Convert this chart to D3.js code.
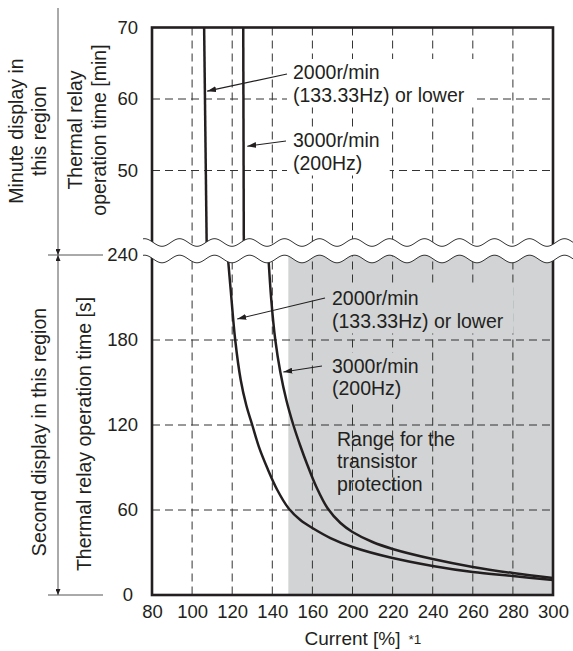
<!DOCTYPE html>
<html><head><meta charset="utf-8">
<script src="https://cdn.jsdelivr.net/npm/d3@7"></script>
<style>
body{margin:0;background:#fff}
svg{display:block}
text{font-family:"Liberation Sans",Arial,sans-serif;fill:#231f20}
</style>
</head><body>
<svg id="c" width="573" height="651"></svg>
<script>
// ---------------- data ----------------
const xTicks = [80, 100, 120, 140, 160, 200, 220, 240, 260, 280, 300];
const yTopTicks = [70, 60, 50];          // minutes
const yBottomTicks = [240, 180, 120, 60, 0]; // seconds
const topGrid = [60, 50];
const bottomGrid = [180, 120, 60];

// minute region (upper panel)
const top2000X = [106.0, 107.3];
const top2000Y = [70, 39];
const top3000X = [125.5, 125.8];
const top3000Y = [70, 39];

// second region (lower panel)
const bot2000X = [117.75, 119.25, 121.5, 124.25, 127, 130, 133.5, 137.5, 142.5, 148, 154, 160, 178, 200, 220, 240, 260, 280, 300];
const bot2000Y = [240, 215.3, 180, 151.8, 134.1, 120, 103.8, 89.6, 74.1, 61.4, 52.9, 47.3, 40.2, 33.9, 26.1, 20.5, 16.2, 13.4, 10.6];
const bot3000X = [138, 139.5, 141.5, 144, 147, 150.5, 154, 157.5, 164, 175, 188, 200, 210, 220, 240, 260, 280, 300];
const bot3000Y = [240, 208.2, 180, 157.4, 137.6, 120, 105.2, 91.8, 76.2, 61.4, 50.8, 44.5, 37.4, 32.5, 25.4, 19.8, 15.5, 12];

const protectionRange = [148, 300];

const label2000 = ["2000r/min", "(133.33Hz) or lower"];
const label3000 = ["3000r/min", "(200Hz)"];
const labelRange = ["Range for the", "transistor", "protection"];
const tipTop2000 = [107.5, 61.1];
const tipTop3000 = [127.5, 53.4];
const tipBot2000 = [122.5, 194.8];
const tipBot3000 = [145.5, 157.4];

const xTitle = "Current [%]";
const xTitleNote = "*1";
const minuteRegion = ["Minute display in", "this region"];
const minuteAxis = ["Thermal relay", "operation time [min]"];
const secondRegion = "Second display in this region";
const secondAxis = "Thermal relay operation time [s]";

// ---------------- layout ----------------
const svg = d3.select("#c");
const W = 573;
const plotL = 152, plotR = 553, plotT = 27.5, plotB = 595;
const step = (plotR - plotL) / (xTicks.length - 1);
const x = d3.scaleLinear().domain(xTicks).range(xTicks.map((d, i) => plotL + i * step));
const yTop = d3.scaleLinear().domain([50, 70]).range([170.5, plotT]);
const yBot = d3.scaleLinear().domain([0, 240]).range([plotB, 255]);
const waveUpper = 242.5, waveLower = 259, waveAmp = 3.8, wavePeriod = 35, wavePhase = 267;
const ink = "#231f20";
const grayFill = "#d1d3d4";

const defs = svg.append("defs");
function marker(id, w, h) {
  defs.append("marker").attr("id", id)
    .attr("markerUnits", "userSpaceOnUse")
    .attr("viewBox", `0 0 ${w} ${h}`)
    .attr("refX", w).attr("refY", h / 2)
    .attr("markerWidth", w).attr("markerHeight", h)
    .attr("orient", "auto-start-reverse")
    .append("path").attr("d", `M0,0L${w},${h/2}L0,${h}Z`).attr("fill", ink);
}
marker("arr", 9, 6);
marker("arrS", 6, 5);

// protection range
svg.append("rect")
  .attr("x", x(protectionRange[0])).attr("width", x(protectionRange[1]) - x(protectionRange[0]))
  .attr("y", yBot(240)).attr("height", yBot(0) - yBot(240))
  .attr("fill", grayFill);

// grid
const grid = svg.append("g").attr("stroke", "#333").attr("stroke-width", 1).attr("stroke-dasharray", "8,5");
grid.selectAll(".v").data(xTicks.slice(1, -1)).join("line")
  .attr("x1", d => x(d)).attr("x2", d => x(d)).attr("y1", plotT).attr("y2", plotB);
grid.selectAll(".ht").data(topGrid).join("line").attr("class", "ht")
  .attr("x1", plotL).attr("x2", plotR).attr("y1", d => yTop(d)).attr("y2", d => yTop(d));
grid.selectAll(".hb").data(bottomGrid).join("line").attr("class", "hb")
  .attr("x1", plotL).attr("x2", plotR).attr("y1", d => yBot(d)).attr("y2", d => yBot(d));

// annotation text blocks
const maskG = svg.append("g");
const textG = svg.append("g");
const fs = 19.5, lh = 22.5;
function block(lines, tx, ty, maskFill) {
  const t = textG.append("text").attr("font-size", fs);
  lines.forEach((s, i) => t.append("tspan").attr("x", tx).attr("y", ty + i * lh).text(s));
  if (maskFill) {
    const b = t.node().getBBox();
    maskG.append("rect").attr("x", b.x - 6).attr("y", b.y - 2)
      .attr("width", b.width + 16).attr("height", b.height + 4).attr("fill", maskFill);
  }
}
block(label2000, 293, 79, "#fff");
block(label3000, 293, 147, "#fff");
block(label2000, 332, 305, grayFill);
block(label3000, 332, 372.5, grayFill);
block(labelRange, 337, 445.5, null);

// curves
const line = d3.line().curve(d3.curveCatmullRom.alpha(0.5));
function curve(xs, ys, ys_scale) {
  svg.append("path")
    .attr("d", line(xs.map((v, i) => [x(v), ys_scale(ys[i])])))
    .attr("fill", "none").attr("stroke", ink).attr("stroke-width", 2.5);
}
curve(top2000X, top2000Y, yTop);
curve(top3000X, top3000Y, yTop);
curve(bot2000X, bot2000Y, yBot);
curve(bot3000X, bot3000Y, yBot);

// arrows
function arrow(sx, sy, tip, ys) {
  svg.append("line").attr("x1", sx).attr("y1", sy)
    .attr("x2", x(tip[0])).attr("y2", ys(tip[1]))
    .attr("stroke", ink).attr("stroke-width", 1.1).attr("marker-end", "url(#arr)");
}
arrow(287, 74, tipTop2000, yTop);
arrow(286, 141, tipTop3000, yTop);
arrow(325, 298, tipBot2000, yBot);
arrow(322, 366, tipBot3000, yBot);

// frame
svg.append("rect").attr("x", plotL).attr("y", plotT).attr("width", plotR - plotL).attr("height", plotB - plotT)
  .attr("fill", "none").attr("stroke", ink).attr("stroke-width", 2.6);

// axis break
const waveXs = d3.range(143, W + 1, 1);
const wy = (c, xx) => c + waveAmp * Math.cos(2 * Math.PI * (xx - wavePhase) / wavePeriod);
const upPts = waveXs.map(xx => [xx, wy(waveUpper, xx)]);
const loPts = waveXs.map(xx => [xx, wy(waveLower, xx)]);
svg.append("path").attr("d", d3.line()(upPts.concat(loPts.slice().reverse())) + "Z").attr("fill", "#fff");
[upPts, loPts].forEach(p => svg.append("path").attr("d", d3.line()(p))
  .attr("fill", "none").attr("stroke", "#333").attr("stroke-width", 1));

// axes
const tfs = 18.5;
const axTop = svg.append("g").attr("transform", `translate(${plotL},0)`)
  .call(d3.axisLeft(yTop).tickValues(yTopTicks).tickSize(0).tickPadding(14));
const axBot = svg.append("g").attr("transform", `translate(${plotL},0)`)
  .call(d3.axisLeft(yBot).tickValues(yBottomTicks).tickSize(0).tickPadding(14));
const axX = svg.append("g").attr("transform", `translate(0,${plotB})`)
  .call(d3.axisBottom(x).tickValues(xTicks).tickFormat(d => String(d)).tickSize(0).tickPadding(10));
[axTop, axBot, axX].forEach(g => {
  g.select(".domain").remove();
  g.attr("font-family", null).attr("font-size", null);
  g.selectAll("text").attr("font-size", tfs).attr("fill", ink);
});
axBot.selectAll(".tick text").filter(d => d === 0).attr("dx", -5);

// x title
const xt = svg.append("text").attr("x", (plotL + plotR) / 2).attr("y", 645)
  .attr("text-anchor", "middle").attr("font-size", 19).text(xTitle);
const xb = xt.node().getBBox();
svg.append("text").attr("x", xb.x + xb.width + 8).attr("y", 644).attr("font-size", 13.5).text(xTitleNote);

// left side labels
function vtext(lines, cy, baselines) {
  const t = svg.append("text").attr("transform", `translate(0,${cy}) rotate(-90)`)
    .attr("text-anchor", "middle").attr("font-size", fs);
  lines.forEach((s, i) => t.append("tspan").attr("x", 0).attr("y", baselines[i]).text(s));
}
vtext(minuteRegion, 131, [23.3, 45.5]);
vtext(minuteAxis, 130, [82.3, 106]);
vtext([secondRegion], 432, [45.7]);
vtext([secondAxis], 434, [90.7]);

// dimension lines
const dim = svg.append("g").attr("stroke", "#555").attr("stroke-width", 1);
dim.append("line").attr("x1", 58).attr("x2", 58).attr("y1", 8).attr("y2", yBot(240)).attr("marker-end", "url(#arrS)");
dim.append("line").attr("x1", 58).attr("x2", 58).attr("y1", yBot(240)).attr("y2", yBot(0))
  .attr("marker-start", "url(#arrS)").attr("marker-end", "url(#arrS)");
[240, 0].forEach(v => dim.append("line").attr("x1", 48).attr("x2", 103).attr("y1", yBot(v)).attr("y2", yBot(v)));
</script>
</body></html>
